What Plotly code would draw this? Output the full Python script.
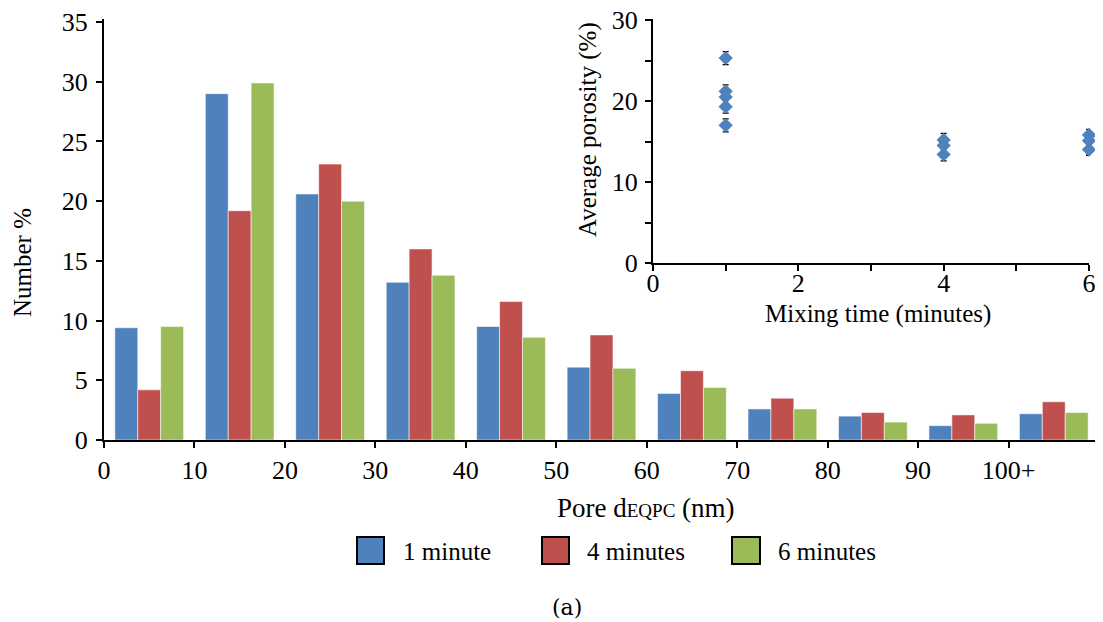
import plotly.graph_objects as go

# ---------------- data ----------------
bin_starts = [0, 10, 20, 30, 40, 50, 60, 70, 80, 90, 100]
tick_labels = ["0", "10", "20", "30", "40", "50", "60", "70", "80", "90", "100+", ""]
series_names = ["1 minute", "4 minutes", "6 minutes"]
one_minute = [9.4, 29.0, 20.6, 13.2, 9.5, 6.1, 3.9, 2.6, 2.0, 1.2, 2.2]
four_minutes = [4.2, 19.2, 23.1, 16.0, 11.6, 8.8, 5.8, 3.5, 2.3, 2.1, 3.2]
six_minutes = [9.5, 29.9, 20.0, 13.8, 8.6, 6.0, 4.4, 2.6, 1.5, 1.4, 2.3]

inset_time = [1, 1, 1, 1, 1, 4, 4, 4, 6, 6, 6]
inset_porosity = [25.3, 21.2, 20.5, 19.3, 17.0, 15.2, 14.5, 13.4, 15.8, 15.1, 14.0]
inset_error = [0.8, 0.8, 0.8, 0.8, 0.8, 0.8, 0.8, 0.8, 0.7, 0.7, 0.7]

colors = ["#4F81BD", "#C0504D", "#9BBB59"]
FONT = "Liberation Serif"

# ---------------- layout helpers (pixel -> paper) ----------------
OFF = 8  # page body margin
W, H = 1103 - OFF, 622 - OFF
PX0, PX1, PY_TOP, PY_BOT = 104, 1099, 19, 440
Y35_PX = 22  # pixel row of the value 35 on the main axis
y_top_val = 35 * (PY_BOT - PY_TOP) / (PY_BOT - Y35_PX)
INSET_BOT, INSET_30 = 263, 20
inset_top_val = 30 * (INSET_BOT - PY_TOP) / (INSET_BOT - INSET_30)


def px(x):
    return (x - PX0) / (PX1 - PX0)


def py(y):
    return (PY_BOT - y) / (PY_BOT - PY_TOP)


bin_centers = [b + 5 for b in bin_starts]

fig = go.Figure()
for name, vals, col in zip(series_names, [one_minute, four_minutes, six_minutes], colors):
    fig.add_trace(go.Bar(
        x=bin_centers, y=vals, name=name, showlegend=False,
        marker=dict(color=col, line=dict(color="rgba(255,255,255,0.55)", width=1)),
    ))

fig.add_trace(go.Scatter(
    x=inset_time, y=inset_porosity, mode="markers", showlegend=False,
    xaxis="x2", yaxis="y2", cliponaxis=False,
    marker=dict(symbol="diamond", size=11, color="#4F81BD"),
    error_y=dict(type="data", array=inset_error, color="black", thickness=1.3, width=3),
))

axis_common = dict(
    showline=True, linecolor="black", linewidth=2, ticks="outside",
    tickcolor="black", tickwidth=2, ticklen=6, showgrid=False, zeroline=False,
    automargin=False, ticklabeloverflow="allow",
    tickfont=dict(family=FONT, size=26, color="black"),
)

fig.update_layout(
    width=W, height=H,
    margin=dict(l=PX0 - OFF, r=1103 - PX1, t=PY_TOP - OFF, b=622 - PY_BOT, autoexpand=False),
    paper_bgcolor="white", plot_bgcolor="white",
    barmode="group", bargap=0.24, bargroupgap=0,
    font=dict(family=FONT, size=25, color="black"),
    xaxis=dict(range=[0, 110], tickmode="array",
               tickvals=[b for b in bin_starts] + [110], ticktext=tick_labels,
               **axis_common),
    yaxis=dict(range=[0, y_top_val], tickmode="array", tickvals=list(range(0, 36, 5)),
               ticklabelstandoff=3, **axis_common),
    xaxis2=dict(domain=[px(653), px(1089)], anchor="y2", range=[0, 6],
                tickmode="array", tickvals=list(range(0, 7)),
                ticktext=["0", "", "2", "", "4", "", "6"],
                ticklabelstandoff=-10, **axis_common),
    yaxis2=dict(domain=[py(INSET_BOT), 1.0], anchor="x2", range=[0, inset_top_val],
                tickmode="array", tickvals=list(range(0, 31, 5)),
                ticktext=["0", "", "10", "", "20", "", "30"],
                ticklabelstandoff=2, **axis_common),
)

ann_common = dict(showarrow=False, xref="paper", yref="paper",
                  xanchor="center", yanchor="middle")
annotations = [
    dict(x=px(23), y=py(263), text="Number %", textangle=-90, font=dict(size=25), **ann_common),
    dict(x=px(646), y=py(508), text="Pore d<span style='font-size:19px'>EQPC</span> (nm)",
         font=dict(size=27), **ann_common),
    dict(x=px(588), y=py(130), text="Average porosity (%)", textangle=-90,
         font=dict(size=25), **ann_common),
    dict(x=px(878), y=py(314), text="Mixing time (minutes)", font=dict(size=25), **ann_common),
    dict(x=px(567), y=py(607), text="(a)", font=dict(size=22, family="DejaVu Serif"), **ann_common),
]

# manual legend
legend_boxes = [(357, 384), (542, 569), (732, 760)]
legend_text_x = [401, 585, 776]
shapes = []
for (bx0, bx1), tx, name, col in zip(legend_boxes, legend_text_x, series_names, colors):
    shapes.append(dict(type="rect", xref="paper", yref="paper",
                       x0=px(bx0), x1=px(bx1), y0=py(564), y1=py(537),
                       fillcolor=col, line=dict(color="black", width=2)))
    annotations.append(dict(x=px(tx), y=py(551), text=name, showarrow=False,
                            xref="paper", yref="paper", xanchor="left", yanchor="middle",
                            font=dict(size=25)))

fig.update_layout(annotations=annotations, shapes=shapes)
fig.write_html("out.html")
